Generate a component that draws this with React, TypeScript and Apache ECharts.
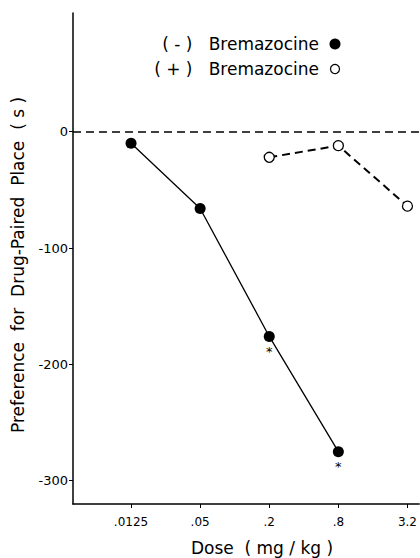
import React, { useEffect, useRef } from "react";
import * as echarts from "echarts";

const doseLabels = [".0125", ".05", ".2", ".8", "3.2"];
const doseTickIndex = [0, 1, 2, 3, 4];
const minusDoseIdx = [0, 1, 2, 3];
const minusValues = [-10, -66, -176, -275];
const minusSignificant = [false, false, true, true];
const plusDoseIdx = [2, 3, 4];
const plusValues = [-22, -12, -64];
const yTickValues = [-300, -200, -100, 0];
const seriesNames = ["(-) Bremazocine", "(+) Bremazocine"];

const FONT = "DejaVu Sans";

export default function App() {
  const ref = useRef<HTMLDivElement>(null);
  useEffect(() => {
    if (!ref.current) return;
    const chart = echarts.init(ref.current, undefined, { renderer: "svg" });
    const minusData = minusValues.map((v, i) => {
      const item: any = { value: [minusDoseIdx[i], v] };
      if (minusSignificant[i]) {
        item.label = {
          show: true,
          position: "bottom",
          distance: 3,
          formatter: "*",
          fontSize: 13,
          fontFamily: FONT,
          color: "#000",
        };
      }
      return item;
    });
    const plusData = plusValues.map((v, i) => [plusDoseIdx[i], v]);
    chart.setOption({
      animation: false,
      backgroundColor: "#fff",
      grid: { left: 73, right: 0, top: 13, bottom: 54 },
      xAxis: {
        type: "value",
        min: -0.84,
        max: 4.17,
        axisLine: { show: true, onZero: false, lineStyle: { color: "#000", width: 1.5 } },
        axisTick: {
          show: true,
          customValues: doseTickIndex,
          length: 4,
          lineStyle: { color: "#000", width: 1 },
        },
        axisLabel: {
          customValues: doseTickIndex,
          formatter: (v: number) => doseLabels[Math.round(v)] ?? "",
          fontSize: 12,
          fontFamily: FONT,
          color: "#000",
          margin: 12,
        },
        splitLine: { show: false },
      },
      yAxis: {
        type: "value",
        min: -320,
        max: 102,
        axisLine: { show: true, onZero: false, lineStyle: { color: "#000", width: 1.5 } },
        axisTick: {
          show: true,
          customValues: yTickValues,
          length: 4,
          lineStyle: { color: "#000", width: 1 },
        },
        axisLabel: {
          customValues: yTickValues,
          fontSize: 13,
          fontFamily: FONT,
          color: "#000",
          margin: 5,
        },
        splitLine: { show: false },
      },
      graphic: [
        {
          type: "text",
          x: 18,
          y: 265,
          rotation: Math.PI / 2,
          style: {
            text: "Preference  for  Drug-Paired  Place  ( s )",
            font: `17px ${FONT}`,
            fill: "#000",
            textAlign: "center",
            textVerticalAlign: "middle",
          },
        },
        {
          type: "text",
          x: 262,
          y: 548,
          style: {
            text: "Dose  ( mg / kg )",
            font: `17px ${FONT}`,
            fill: "#000",
            textAlign: "center",
            textVerticalAlign: "middle",
          },
        },
        {
          type: "text",
          x: 319,
          y: 44,
          style: {
            text: "( - )   " + seriesNames[0].slice(4),
            font: `17px ${FONT}`,
            fill: "#000",
            textAlign: "right",
            textVerticalAlign: "middle",
          },
        },
        {
          type: "circle",
          shape: { cx: 335, cy: 44, r: 5.5 },
          style: { fill: "#000" },
        },
        {
          type: "text",
          x: 319,
          y: 69,
          style: {
            text: "( + )   " + seriesNames[1].slice(4),
            font: `17px ${FONT}`,
            fill: "#000",
            textAlign: "right",
            textVerticalAlign: "middle",
          },
        },
        {
          type: "circle",
          shape: { cx: 335, cy: 69, r: 4.5 },
          style: { fill: "#fff", stroke: "#000", lineWidth: 1.2 },
        },
      ],
      series: [
        {
          name: seriesNames[0],
          type: "line",
          data: minusData,
          symbol: "circle",
          symbolSize: 11,
          itemStyle: { color: "#000" },
          lineStyle: { color: "#000", width: 1.3 },
          z: 3,
          markLine: {
            silent: true,
            symbol: "none",
            label: { show: false },
            lineStyle: { color: "#000", width: 1.5, type: [8, 5] },
            data: [{ yAxis: 0 }],
          },
        },
        {
          name: seriesNames[1],
          type: "line",
          data: plusData,
          symbol: "circle",
          symbolSize: 10,
          itemStyle: { color: "#fff", borderColor: "#000", borderWidth: 1.3 },
          lineStyle: { color: "#000", width: 2, type: [8, 5] },
          z: 3,
        },
      ],
    });
    return () => chart.dispose();
  }, []);
  return (
    <div
      ref={ref}
      style={{ position: "fixed", left: 0, top: 0, width: 420, height: 558 }}
    />
  );
}
